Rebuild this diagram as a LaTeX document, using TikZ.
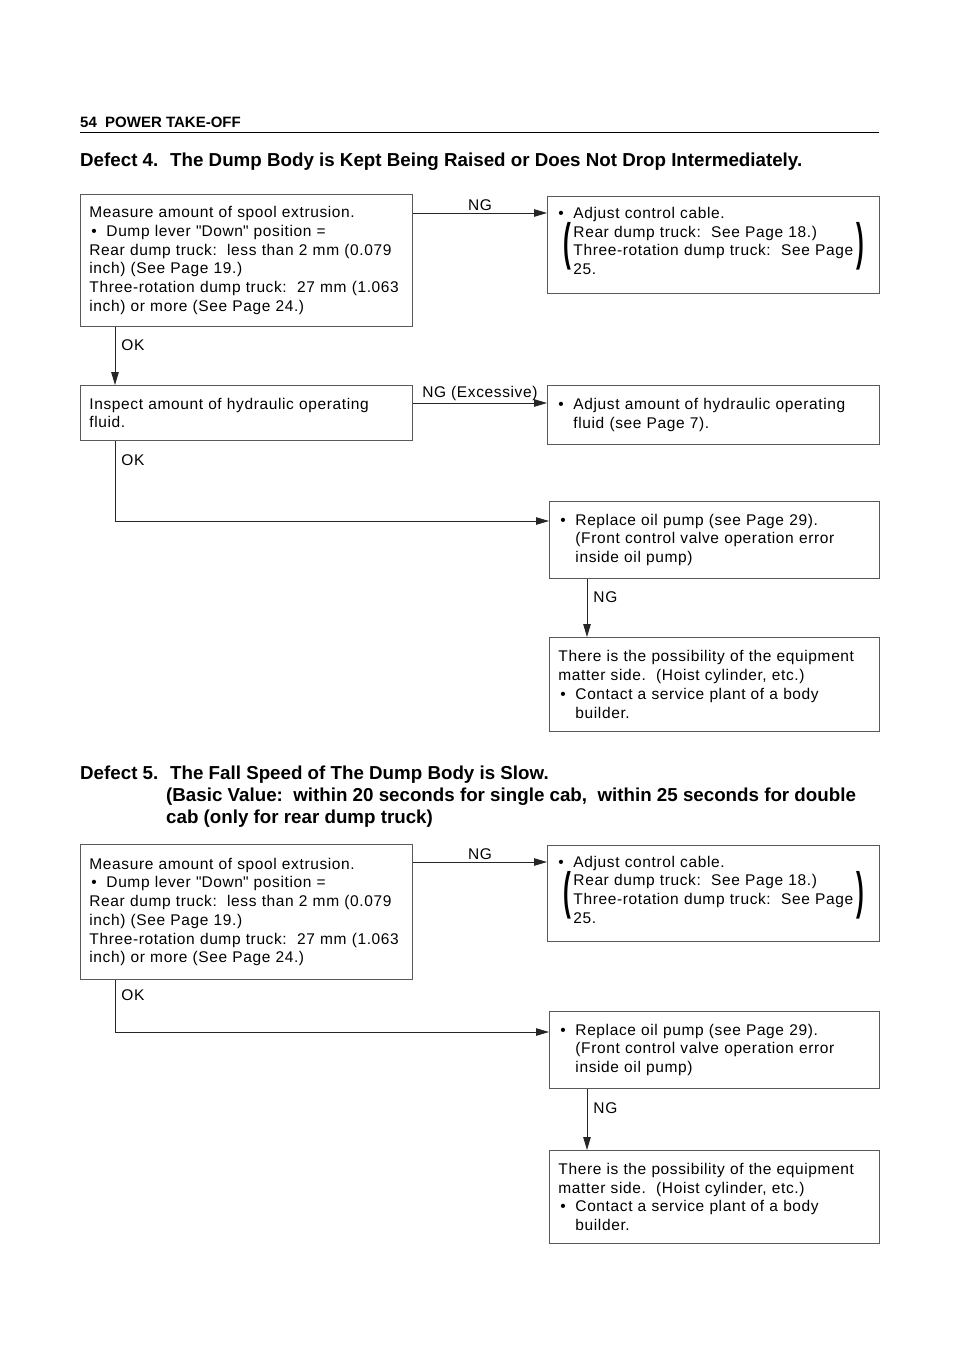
\documentclass[tikz,border=0pt]{standalone}
\usepackage{fontspec}
\setmainfont{Liberation Sans}
\newfontfamily\plainfont{Liberation Sans}
\usepackage{graphicx}
\usetikzlibrary{arrows.meta}

\newcommand{\bodyfont}{\fontsize{15.5pt}{18.7pt}\selectfont\addfontfeature{LetterSpace=4}}
\newcommand{\headfont}{\fontsize{15pt}{18pt}\selectfont\bfseries}
\newcommand{\titlefont}{\fontsize{18.75pt}{22pt}\selectfont\bfseries}
\newcommand{\itm}{\hspace*{2pt}\makebox[15pt][l]{\textbullet}}
\newcommand{\ind}{\hspace*{17pt}}
\newcommand{\qt}{{\plainfont"}}
\newcommand{\lpar}{\llap{\smash{\raisebox{-4pt}{\scalebox{1.5}[3.3]{\bfseries (}}}\hspace{2pt}}}
\newcommand{\rpar}{\rlap{\hspace{3pt}\smash{\raisebox{-4pt}{\scalebox{1.5}[3.3]{\bfseries )}}}}}
\newcommand{\lift}{\rule[-8pt]{0pt}{8pt}}

\tikzset{
    box/.style={draw=black!65, line width=0.9pt, anchor=north west, align=left,
        inner xsep=9pt, inner ysep=4pt, font=\bodyfont},
    arr/.style={draw=black!85, line width=0.9pt, -{Triangle[length=13pt, width=7.5pt]}},
    lbl/.style={font=\bodyfont, inner sep=2pt}
}

\begin{document}
\begin{tikzpicture}[x=1pt, y=-1pt]
    \useasboundingbox (0,0) rectangle (960,1358);

    \def \okx {35pt};
    \def \ngx {38pt};

    % header
    \node[anchor=base west, font=\headfont, inner sep=0] (hdr) at (80,127.5) {54\ \ POWER TAKE-OFF};
    \draw[line width=1.3pt] (80,132.5) -- (879,132.5);

    % ---------- Defect 4 ----------
    \node[anchor=base west, font=\titlefont, inner sep=0] (def4) at (80,166.5)
        {\makebox[90pt][l]{Defect 4.}The Dump Body is Kept Being Raised or Does Not Drop Intermediately.};

    \node[box, text width=314pt, minimum height=132pt] (meas4) at (80,194)
        {Measure amount of spool extrusion.\\
         \itm Dump lever \qt Down\qt{} position =\\
         Rear dump truck:\ \ less than 2 mm (0.079\\
         inch) (See Page 19.)\\
         Three-rotation dump truck:\ \ 27 mm (1.063\\
         inch) or more (See Page 24.)};
    \node[box, text width=314pt, minimum height=97pt] (cable4) at (547,196)
        {\itm Adjust control cable.\\
         \ind Rear dump truck:\ \ See Page 18.)\\
         \ind\lpar Three-rotation dump truck:\ \ See Page\rpar\\
         \ind 25.\lift};
    \node[box, text width=314pt, minimum height=55pt] (insp4) at (80,385)
        {Inspect amount of hydraulic operating\\
         fluid.};
    \node[box, text width=314pt, minimum height=59pt] (fluid4) at (547,385)
        {\itm Adjust amount of hydraulic operating\\
         \ind fluid (see Page 7).};
    \node[box, text width=312pt, minimum height=77pt] (pump4) at (549,501)
        {\itm Replace oil pump (see Page 29).\\
         \ind (Front control valve operation error\\
         \ind inside oil pump)};
    \node[box, text width=312pt, minimum height=94pt] (body4) at (549,637)
        {There is the possibility of the equipment\\
         matter side.\ \ (Hoist cylinder, etc.)\\
         \itm Contact a service plant of a body\\
         \ind builder.};

    \coordinate (ng4a) at ([yshift=-19pt]meas4.north east);
    \draw[arr] (ng4a) -- (ng4a -| cable4.west) node[midway, above, lbl] {NG};
    \coordinate (ok4a) at ([xshift=\okx]meas4.south west);
    \draw[arr] (ok4a) -- (ok4a |- insp4.north) node[pos=0.32, right=4pt, lbl] {OK};
    \coordinate (ng4b) at ([yshift=-18pt]insp4.north east);
    \draw[arr] (ng4b) -- (ng4b -| fluid4.west) node[midway, above, lbl] {NG (Excessive)};
    \coordinate (ok4b) at ([xshift=\okx]insp4.south west);
    \coordinate (in4) at ([yshift=-20pt]pump4.north west);
    \draw[arr] (ok4b) |- (in4) node[pos=0.12, right=4pt, lbl] {OK};
    \coordinate (ng4c) at ([xshift=\ngx]pump4.south west);
    \draw[arr] (ng4c) -- (ng4c |- body4.north) node[pos=0.32, right=4pt, lbl] {NG};

    % ---------- Defect 5 ----------
    \node[anchor=north west, font=\titlefont, inner sep=0, align=left] (def5) at (80,766)
        {\makebox[90pt][l]{Defect 5.}The Fall Speed of The Dump Body is Slow.\\
         \hspace*{86pt}(Basic Value:\ \ within 20 seconds for single cab,\ \ within 25 seconds for double\\
         \hspace*{86pt}cab (only for rear dump truck)};

    \node[box, text width=314pt, minimum height=135pt] (meas5) at (80,844)
        {Measure amount of spool extrusion.\\
         \itm Dump lever \qt Down\qt{} position =\\
         Rear dump truck:\ \ less than 2 mm (0.079\\
         inch) (See Page 19.)\\
         Three-rotation dump truck:\ \ 27 mm (1.063\\
         inch) or more (See Page 24.)};
    \node[box, text width=314pt, minimum height=96pt] (cable5) at (547,845)
        {\itm Adjust control cable.\\
         \ind Rear dump truck:\ \ See Page 18.)\\
         \ind\lpar Three-rotation dump truck:\ \ See Page\rpar\\
         \ind 25.\lift};
    \node[box, text width=312pt, minimum height=77pt] (pump5) at (549,1011)
        {\itm Replace oil pump (see Page 29).\\
         \ind (Front control valve operation error\\
         \ind inside oil pump)};
    \node[box, text width=312pt, minimum height=93pt] (body5) at (549,1150)
        {There is the possibility of the equipment\\
         matter side.\ \ (Hoist cylinder, etc.)\\
         \itm Contact a service plant of a body\\
         \ind builder.};

    \coordinate (ng5a) at ([yshift=-18pt]meas5.north east);
    \draw[arr] (ng5a) -- (ng5a -| cable5.west) node[midway, above, lbl] {NG};
    \coordinate (ok5a) at ([xshift=\okx]meas5.south west);
    \coordinate (in5) at ([yshift=-21pt]pump5.north west);
    \draw[arr] (ok5a) |- (in5) node[pos=0.15, right=4pt, lbl] {OK};
    \coordinate (ng5b) at ([xshift=\ngx]pump5.south west);
    \draw[arr] (ng5b) -- (ng5b |- body5.north) node[pos=0.32, right=4pt, lbl] {NG};

\end{tikzpicture}
\end{document}
